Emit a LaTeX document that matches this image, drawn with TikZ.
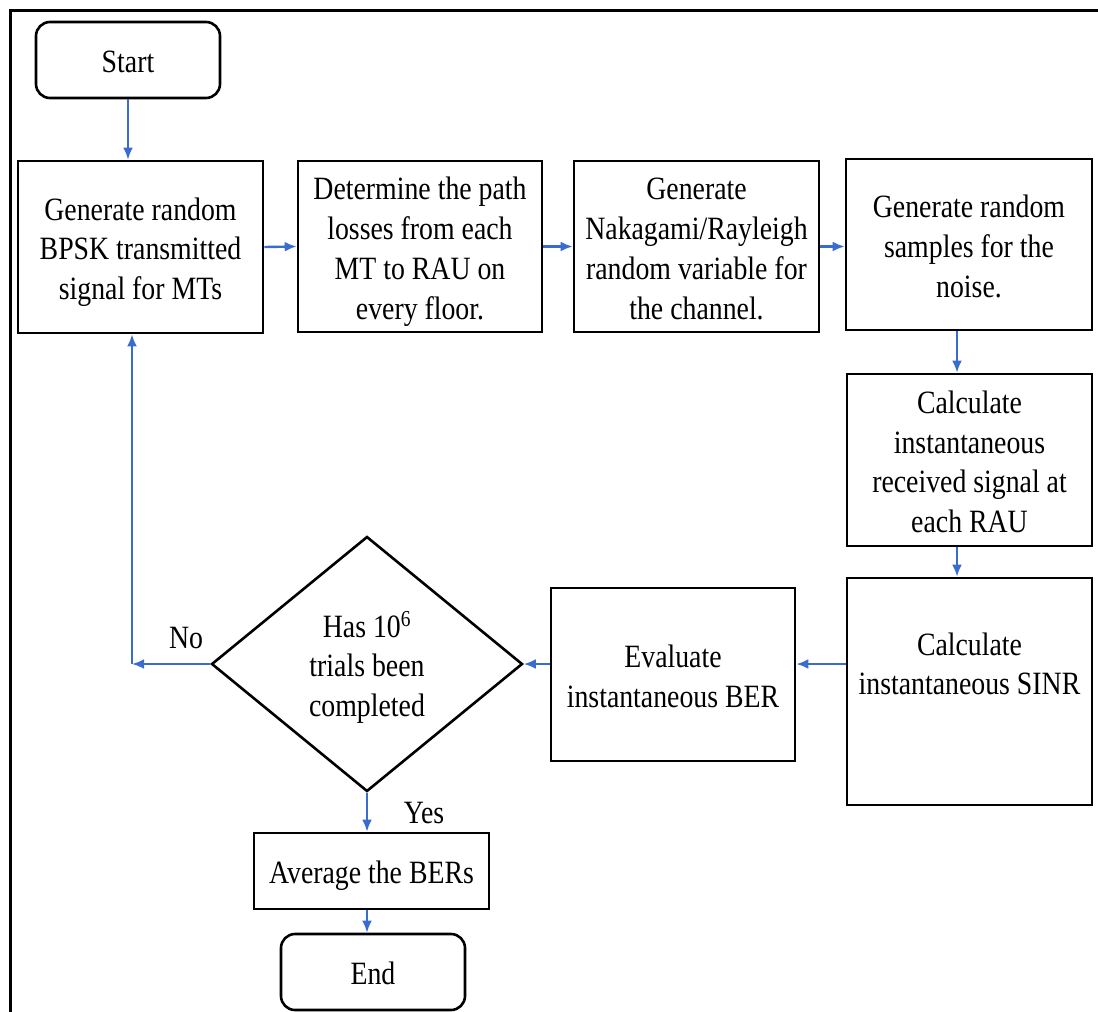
\documentclass[tikz,border=0pt]{standalone}
\usepackage{fontspec}
\setmainfont{Liberation Serif}
\usetikzlibrary{arrows.meta,shapes.geometric}
\definecolor{arrblue}{RGB}{58,108,208}
\newcommand{\stx}[1]{\raisebox{0pt}[\dimexpr\height+10pt\relax][\depth]{\scalebox{1}[1.17]{\begin{tabular}{@{}c@{}}#1\end{tabular}}}}
\begin{document}
\begin{tikzpicture}[x=1pt,y=-1pt,
  every node/.style={font=\fontsize{27.8}{34}\selectfont, align=center, inner sep=0pt},
  procbox/.style={draw, line width=2.6pt, rectangle},
  termbox/.style={draw, line width=2.6pt, rectangle, rounded corners=14pt},
  decbox/.style={draw, line width=2.6pt, diamond, aspect=1.2},
  arr/.style={draw=arrblue, line width=2.4pt, -{Latex[length=12pt,width=10pt]}},
  lbl/.style={inner sep=0pt}
]
\useasboundingbox (0,0) rectangle (1098,1012);
\draw[line width=3pt] (10,1040) -- (10,10) -- (1101,10) -- (1101,1040);

\node[termbox, minimum width=184pt, minimum height=76pt] (start) at (128,60) {\stx{Start}};
\node[procbox, minimum width=245pt, minimum height=172pt] (b1) at (140.5,247) {\stx{Generate random\\BPSK transmitted\\signal for MTs}};
\node[procbox, minimum width=244pt, minimum height=171pt] (b2) at (420,246.5) {\stx{Determine the path\\losses from each\\MT to RAU on\\every floor.}};
\node[procbox, minimum width=245pt, minimum height=171pt] (b3) at (696.5,246.5) {\stx{Generate\\Nakagami/Rayleigh\\random variable for\\the channel.}};
\node[procbox, minimum width=246pt, minimum height=171pt] (b4) at (969,244.5) {\stx{Generate random\\samples for the\\noise.}};
\node[procbox, minimum width=245pt, minimum height=172pt] (b5) at (969.5,460) {\stx{Calculate\\instantaneous\\received signal at\\each RAU}};
\node[procbox, minimum width=245pt, minimum height=227pt] (b6) at (969.5,691.5) {};
\node (t6) at (969.5,662) {\stx{Calculate\\instantaneous SINR}};
\node[procbox, minimum width=244pt, minimum height=173pt] (b7) at (673,674.5) {\stx{Evaluate\\instantaneous BER}};
\node[decbox, minimum width=311pt, minimum height=255pt] (dia) at (367,664) {\stx{Has 10\textsuperscript{6}\\trials been\\completed}};
\node[procbox, minimum width=235pt, minimum height=76pt] (avg) at (371.5,871) {\stx{Average the BERs}};
\node[termbox, minimum width=184pt, minimum height=76pt] (end) at (373,972) {\stx{End}};

\node[lbl] (no) at (186,636) {\stx{No}};
\node[lbl] (yes) at (424,811) {\stx{Yes}};

\coordinate (vx) at (957,0);
\coordinate (hy) at (0,664);
\coordinate (c1) at (132,664);

\draw[arr] (start.south) -- (start.south |- b1.north);
\draw[arr] (b1.east) -- (b2.west);
\draw[arr] (b2.east) -- (b3.west);
\draw[arr] (b3.east) -- (b3.east -| b4.west);
\draw[arr] (b4.south -| vx) -- (b5.north -| vx);
\draw[arr] (b5.south -| vx) -- (b6.north -| vx);
\draw[arr] (b6.west |- hy) -- (b7.east |- hy);
\draw[arr] (b7.west |- hy) -- (dia.east);
\draw[arr] (dia.west) -- (c1);
\draw[arr] (c1) -- (c1 |- b1.south);
\draw[arr] (dia.south) -- (dia.south |- avg.north);
\draw[arr] (dia.south |- avg.south) -- (dia.south |- end.north);
\end{tikzpicture}
\end{document}
